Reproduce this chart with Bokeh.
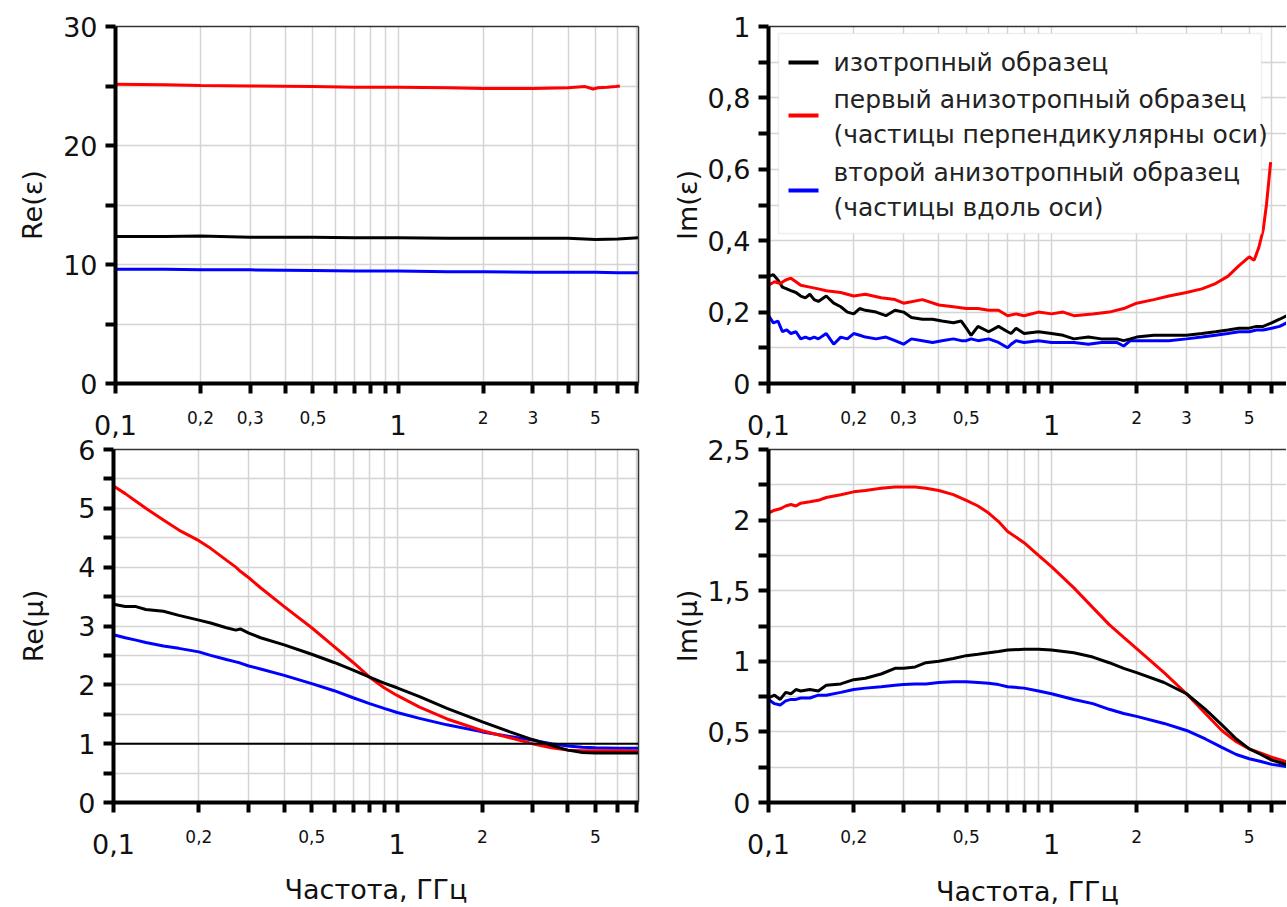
from bokeh.plotting import figure
from bokeh.models import FixedTicker, LinearAxis, LogAxis, Label, BoxAnnotation, Span, Range1d
from bokeh.layouts import column, row
from bokeh.embed import file_html
from bokeh.resources import INLINE

FONT = "DejaVu Sans"
GRID = "#d4d4d4"

# ---------------- data ----------------
# Re(eps)
re_eps_freq = [0.1, 0.15, 0.2, 0.3, 0.5, 0.7, 1.0, 1.5, 2.0, 3.0, 4.0, 5.0, 6.0, 7.1]
re_eps_iso = [12.35, 12.35, 12.4, 12.3, 12.3, 12.25, 12.25, 12.2, 12.2, 12.2, 12.2, 12.1, 12.15, 12.25]
re_eps_perp_freq = [0.1, 0.15, 0.2, 0.3, 0.5, 0.7, 1.0, 1.5, 2.0, 3.0, 4.0,
                    4.6, 4.9, 5.1, 5.5, 5.9, 6.1]
re_eps_perp = [25.15, 25.1, 25.05, 25.0, 24.95, 24.9, 24.9, 24.85, 24.8, 24.8, 24.85,
               24.95, 24.75, 24.85, 24.9, 24.95, 25.0]
re_eps_along = [9.6, 9.6, 9.55, 9.55, 9.5, 9.45, 9.45, 9.4, 9.4, 9.35, 9.35, 9.35, 9.3, 9.3]

# Im(eps)
im_eps_freq = [0.1, 0.104, 0.108, 0.112, 0.116, 0.12, 0.125, 0.13, 0.135, 0.14, 0.145, 0.15,
               0.16, 0.17, 0.18, 0.19, 0.2, 0.21, 0.22, 0.24, 0.26, 0.28, 0.3, 0.32, 0.35,
               0.38, 0.41, 0.45, 0.48, 0.5, 0.52, 0.55, 0.6, 0.65, 0.7, 0.72, 0.75, 0.8,
               0.9, 1.0, 1.1, 1.2, 1.35, 1.5, 1.7, 1.8, 1.9, 2.0, 2.3, 2.6, 3.0, 3.4, 3.8,
               4.2, 4.6, 5.0, 5.3, 5.6, 6.0, 6.4, 7.0]
im_eps_iso = [0.30, 0.305, 0.29, 0.27, 0.265, 0.26, 0.255, 0.245, 0.24, 0.25, 0.235, 0.23,
              0.245, 0.225, 0.215, 0.20, 0.195, 0.21, 0.205, 0.20, 0.19, 0.205, 0.20, 0.185, 0.18,
              0.18, 0.175, 0.17, 0.175, 0.155, 0.135, 0.16, 0.145, 0.16, 0.145, 0.14, 0.155, 0.14,
              0.145, 0.14, 0.135, 0.125, 0.13, 0.125, 0.125, 0.12, 0.125, 0.13, 0.135, 0.135, 0.135, 0.14, 0.145,
              0.15, 0.155, 0.155, 0.16, 0.16, 0.17, 0.18, 0.195]
im_eps_along = [0.19, 0.17, 0.175, 0.145, 0.15, 0.14, 0.145, 0.125, 0.13, 0.125, 0.13, 0.125,
                0.14, 0.11, 0.13, 0.125, 0.14, 0.135, 0.13, 0.125, 0.13, 0.12, 0.11, 0.125, 0.12,
                0.115, 0.12, 0.125, 0.12, 0.12, 0.125, 0.12, 0.125, 0.115, 0.10, 0.11, 0.12, 0.115,
                0.12, 0.115, 0.115, 0.115, 0.11, 0.115, 0.115, 0.105, 0.12, 0.12, 0.12, 0.12, 0.125, 0.13, 0.135,
                0.14, 0.145, 0.145, 0.15, 0.15, 0.155, 0.16, 0.175]
im_eps_perp_freq = [0.1, 0.105, 0.11, 0.115, 0.12, 0.125, 0.13, 0.14, 0.15, 0.16, 0.18, 0.2, 0.22,
                    0.25, 0.28, 0.3, 0.35, 0.4, 0.45, 0.5, 0.55, 0.6, 0.65, 0.7, 0.75, 0.8, 0.9,
                    1.0, 1.1, 1.2, 1.4, 1.6, 1.8, 2.0, 2.3, 2.6, 3.0, 3.4, 3.8, 4.2, 4.6, 5.0,
                    5.2, 5.4, 5.6, 5.75, 5.85, 5.95]
im_eps_perp = [0.275, 0.285, 0.28, 0.29, 0.295, 0.285, 0.275, 0.27, 0.265, 0.26, 0.255, 0.245, 0.25,
               0.24, 0.235, 0.225, 0.235, 0.22, 0.215, 0.21, 0.21, 0.205, 0.205, 0.19, 0.195, 0.19, 0.2,
               0.195, 0.2, 0.19, 0.195, 0.2, 0.21, 0.225, 0.235, 0.245, 0.255, 0.265, 0.28, 0.30, 0.33, 0.355,
               0.345, 0.38, 0.43, 0.5, 0.56, 0.62]

# Re(mu)
re_mu_freq = [0.1, 0.11, 0.12, 0.13, 0.15, 0.17, 0.2, 0.22, 0.25, 0.27, 0.28, 0.3, 0.33, 0.4,
              0.5, 0.6, 0.7, 0.8, 0.9, 1.0, 1.2, 1.5, 2.0, 2.5, 3.0, 3.5, 4.0, 4.5, 5.0, 6.0, 7.1]
re_mu_perp = [5.38, 5.25, 5.12, 5.0, 4.8, 4.63, 4.45, 4.32, 4.12, 4.0, 3.93, 3.82, 3.65, 3.33,
              2.97, 2.65, 2.38, 2.13, 1.95, 1.82, 1.62, 1.42, 1.22, 1.1, 1.0, 0.93, 0.89, 0.88, 0.88, 0.88, 0.87]
re_mu_iso = [3.37, 3.33, 3.33, 3.28, 3.25, 3.18, 3.1, 3.05, 2.97, 2.93, 2.95, 2.88, 2.8, 2.68,
             2.52, 2.38, 2.25, 2.13, 2.03, 1.95, 1.8, 1.6, 1.37, 1.2, 1.07, 0.97, 0.89, 0.85, 0.84, 0.84, 0.84]
re_mu_along = [2.85, 2.8, 2.76, 2.72, 2.66, 2.62, 2.56, 2.5, 2.43, 2.39, 2.37, 2.32, 2.27, 2.16,
               2.02, 1.9, 1.78, 1.68, 1.6, 1.53, 1.43, 1.32, 1.2, 1.12, 1.06, 1.0, 0.96, 0.94, 0.93, 0.92, 0.92]
re_mu_reference = 1.0

# Im(mu)
im_mu_freq = [0.1, 0.105, 0.11, 0.115, 0.12, 0.125, 0.13, 0.14, 0.15, 0.16, 0.18, 0.2, 0.22, 0.25,
              0.28, 0.3, 0.33, 0.36, 0.4, 0.45, 0.5, 0.55, 0.6, 0.65, 0.7, 0.8, 0.9, 1.0, 1.2,
              1.4, 1.6, 1.8, 2.0, 2.5, 3.0, 3.5, 4.0, 4.5, 5.0, 5.5, 6.0, 6.5, 7.0]
im_mu_perp = [2.05, 2.07, 2.08, 2.1, 2.11, 2.1, 2.12, 2.13, 2.14, 2.16, 2.18, 2.2, 2.21, 2.225,
              2.235, 2.235, 2.235, 2.225, 2.21, 2.18, 2.14, 2.1, 2.05, 1.99, 1.92, 1.84, 1.75, 1.67, 1.52,
              1.38, 1.26, 1.17, 1.09, 0.92, 0.77, 0.63, 0.51, 0.43, 0.38, 0.35, 0.32, 0.3, 0.28]
im_mu_iso = [0.74, 0.76, 0.73, 0.78, 0.77, 0.8, 0.79, 0.8, 0.79, 0.83, 0.84, 0.87, 0.88, 0.91,
             0.95, 0.95, 0.96, 0.99, 1.0, 1.02, 1.04, 1.05, 1.06, 1.07, 1.08, 1.085, 1.085, 1.08, 1.06,
             1.03, 0.99, 0.95, 0.92, 0.85, 0.77, 0.66, 0.55, 0.45, 0.38, 0.34, 0.3, 0.28, 0.26]
im_mu_along = [0.73, 0.7, 0.69, 0.72, 0.73, 0.73, 0.74, 0.74, 0.76, 0.76, 0.78, 0.8, 0.81, 0.82,
               0.83, 0.835, 0.84, 0.84, 0.85, 0.855, 0.855, 0.85, 0.845, 0.835, 0.82, 0.81, 0.79, 0.77, 0.73,
               0.7, 0.66, 0.63, 0.61, 0.56, 0.51, 0.45, 0.39, 0.34, 0.31, 0.29, 0.27, 0.26, 0.25]

# ticks / labels
x_small_top = [0.2, 0.3, 0.5, 2, 3, 5]
x_small_top_labels = ["0,2", "0,3", "0,5", "2", "3", "5"]
x_small_bottom = [0.2, 0.5, 2, 5]
x_small_bottom_labels = ["0,2", "0,5", "2", "5"]
x_all_ticks = [0.1, 0.2, 0.3, 0.4, 0.5, 0.6, 0.7, 0.8, 0.9, 1, 2, 3, 4, 5, 6, 7]
x_big = [0.1, 1]
x_big_labels = ["0,1", "1"]

re_eps_yticks = [0, 10, 20, 30]
re_eps_ylabels = ["0", "10", "20", "30"]
re_eps_yminor = [5, 15, 25]
im_eps_yticks = [0, 0.2, 0.4, 0.6, 0.8, 1]
im_eps_ylabels = ["0", "0,2", "0,4", "0,6", "0,8", "1"]
im_eps_yminor = [0.1, 0.3, 0.5, 0.7, 0.9]
re_mu_yticks = [0, 1, 2, 3, 4, 5, 6]
re_mu_ylabels = ["0", "1", "2", "3", "4", "5", "6"]
re_mu_yminor = [0.5, 1.5, 2.5, 3.5, 4.5, 5.5]
im_mu_yticks = [0, 0.5, 1, 1.5, 2, 2.5]
im_mu_ylabels = ["0", "0,5", "1", "1,5", "2", "2,5"]
im_mu_yminor = [0.25, 0.75, 1.25, 1.75, 2.25]

legend_labels = ["изотропный образец",
                 "первый анизотропный образец", "(частицы перпендикулярны оси)",
                 "второй анизотропный образец", "(частицы вдоль оси)"]

COL_ISO, COL_PERP, COL_ALONG = "#000000", "#ff0000", "#0000ff"
LW = 3
TXT = "#111111"


def make_panel(x_end, y_end, fw, fh, mbl, mbr, mbt, mbb, yt, yl, ym, xs, xsl, ylabel,
               ystand, xlabel=None, xstand=9, right_border=True):
    p = figure(x_axis_type="log", x_range=Range1d(0.1, x_end), y_range=Range1d(0, y_end),
               frame_width=fw, frame_height=fh, min_border_left=mbl, min_border_right=mbr,
               min_border_top=mbt, min_border_bottom=mbb, output_backend="svg",
               toolbar_location=None, background_fill_color="white",
               border_fill_alpha=0.0)
    p.outline_line_color = None
    xminor = [t for t in x_all_ticks if t not in xs]
    xt = FixedTicker(ticks=xs, minor_ticks=xminor)
    ytk = FixedTicker(ticks=yt, minor_ticks=ym)
    xa = p.xaxis[0]
    ya = p.yaxis[0]
    xa.ticker = xt
    ya.ticker = ytk
    p.xgrid.ticker = xt
    p.ygrid.ticker = ytk
    for g in (p.xgrid[0], p.ygrid[0]):
        g.grid_line_color = GRID
        g.grid_line_width = 1.5
        g.minor_grid_line_color = GRID
        g.minor_grid_line_width = 1.5
    for a in (xa, ya):
        a.axis_line_width = 4
        a.axis_line_color = "black"
        a.major_tick_line_width = 4
        a.minor_tick_line_width = 4
        a.major_tick_out = 10
        a.major_tick_in = 0
        a.minor_tick_out = 10
        a.minor_tick_in = 0
        a.major_label_text_font = FONT
        a.major_label_text_color = TXT
        a.axis_label_text_font = FONT
        a.axis_label_text_font_style = "normal"
        a.axis_label_text_color = TXT
        a.axis_label_text_font_size = "27px"
    xa.major_label_overrides = dict(zip(xs, xsl))
    xa.major_label_text_font_size = "17px"
    xa.major_label_standoff = 17
    ya.major_label_overrides = dict(zip(yt, yl))
    ya.major_label_text_font_size = "27px"
    ya.major_label_standoff = 8
    ya.axis_label = ylabel
    ya.axis_label_standoff = ystand
    # second row of x labels (large "0,1" and "1")
    xb = LogAxis(ticker=FixedTicker(ticks=x_big),
                 major_label_overrides=dict(zip(x_big, x_big_labels)),
                 axis_line_color=None, major_tick_line_color=None,
                 minor_tick_line_color=None, major_tick_out=0, major_tick_in=0,
                 minor_tick_out=0, minor_tick_in=0,
                 major_label_standoff=-12, major_label_text_font=FONT,
                 major_label_text_font_size="27px", major_label_text_color=TXT)
    if xlabel:
        xb.axis_label = xlabel
        xb.axis_label_standoff = xstand
        xb.axis_label_text_font = FONT
        xb.axis_label_text_font_style = "normal"
        xb.axis_label_text_font_size = "27px"
        xb.axis_label_text_color = TXT
    p.add_layout(xb, "below")
    top = LinearAxis(ticker=FixedTicker(ticks=[]), axis_line_color="#333333",
                     axis_line_width=1.5, major_tick_line_color=None,
                     minor_tick_line_color=None)
    p.add_layout(top, "above")
    if right_border:
        rt = LinearAxis(ticker=FixedTicker(ticks=[]), axis_line_color="#333333",
                        axis_line_width=1.5, major_tick_line_color=None,
                        minor_tick_line_color=None)
        p.add_layout(rt, "right")
    return p


# top-left: Re(eps)
p1 = make_panel(7.1, 30, 523, 357, 115, 12, 26, 74, re_eps_yticks, re_eps_ylabels,
                re_eps_yminor, x_small_top, x_small_top_labels, "Re(ε)", 12)
p1.line(re_eps_freq, re_eps_iso, line_color=COL_ISO, line_width=LW)
p1.line(re_eps_perp_freq, re_eps_perp, line_color=COL_PERP, line_width=LW)
p1.line(re_eps_freq, re_eps_along, line_color=COL_ALONG, line_width=LW)

# top-right: Im(eps)
p2 = make_panel(6.77, 1, 518, 357, 118, 0, 26, 74, im_eps_yticks, im_eps_ylabels,
                im_eps_yminor, x_small_top, x_small_top_labels, "Im(ε)", 2,
                right_border=False)
p2.line(im_eps_freq, im_eps_along, line_color=COL_ALONG, line_width=LW)
p2.line(im_eps_freq, im_eps_iso, line_color=COL_ISO, line_width=LW)
p2.line(im_eps_perp_freq, im_eps_perp, line_color=COL_PERP, line_width=LW)

# legend (manual, inside Im(eps) panel)
p2.add_layout(BoxAnnotation(left=10, right=493, top=350, bottom=150,
                            left_units="screen", right_units="screen",
                            top_units="screen", bottom_units="screen",
                            fill_color="white", fill_alpha=1.0,
                            line_color="#c8c8c8", line_width=1.5, level="overlay"))
for yc, col in zip([321, 268, 193], [COL_ISO, COL_PERP, COL_ALONG]):
    p2.add_layout(BoxAnnotation(left=20, right=50, top=yc + 2, bottom=yc - 2,
                                left_units="screen", right_units="screen",
                                top_units="screen", bottom_units="screen",
                                fill_color=col, fill_alpha=1.0, line_color=None,
                                level="overlay"))
for yc, txt in zip([321, 284, 249, 211, 176], legend_labels):
    p2.add_layout(Label(x=65, y=yc, x_units="screen", y_units="screen", text=txt,
                        text_font=FONT, text_font_size="25px", text_baseline="middle",
                        text_color="#222222", level="overlay"))

# bottom-left: Re(mu)
p3 = make_panel(7.1, 6, 525, 353, 113, 12, 20, 103, re_mu_yticks, re_mu_ylabels,
                re_mu_yminor, x_small_bottom, x_small_bottom_labels, "Re(μ)", 26,
                xlabel="Частота, ГГц", xstand=17)
p3.add_layout(Span(location=re_mu_reference, dimension="width", line_color="black",
                   line_width=2))
p3.line(re_mu_freq, re_mu_along, line_color=COL_ALONG, line_width=LW)
p3.line(re_mu_freq, re_mu_perp, line_color=COL_PERP, line_width=LW)
p3.line(re_mu_freq, re_mu_iso, line_color=COL_ISO, line_width=LW)

# bottom-right: Im(mu)
p4 = make_panel(6.77, 2.5, 518, 353, 118, 0, 22, 101, im_mu_yticks, im_mu_ylabels,
                im_mu_yminor, x_small_bottom, x_small_bottom_labels, "Im(μ)", 2,
                xlabel="Частота, ГГц", xstand=19, right_border=False)
p4.line(im_mu_freq, im_mu_along, line_color=COL_ALONG, line_width=LW)
p4.line(im_mu_freq, im_mu_perp, line_color=COL_PERP, line_width=LW)
p4.line(im_mu_freq, im_mu_iso, line_color=COL_ISO, line_width=LW)

top_row = row(p1, p2)
bottom_row = row(p3, p4)
bottom_row.margin = (-30, 0, 0, 0)
layout = column(top_row, bottom_row)
open("out.html", "w").write(file_html(layout, INLINE))
